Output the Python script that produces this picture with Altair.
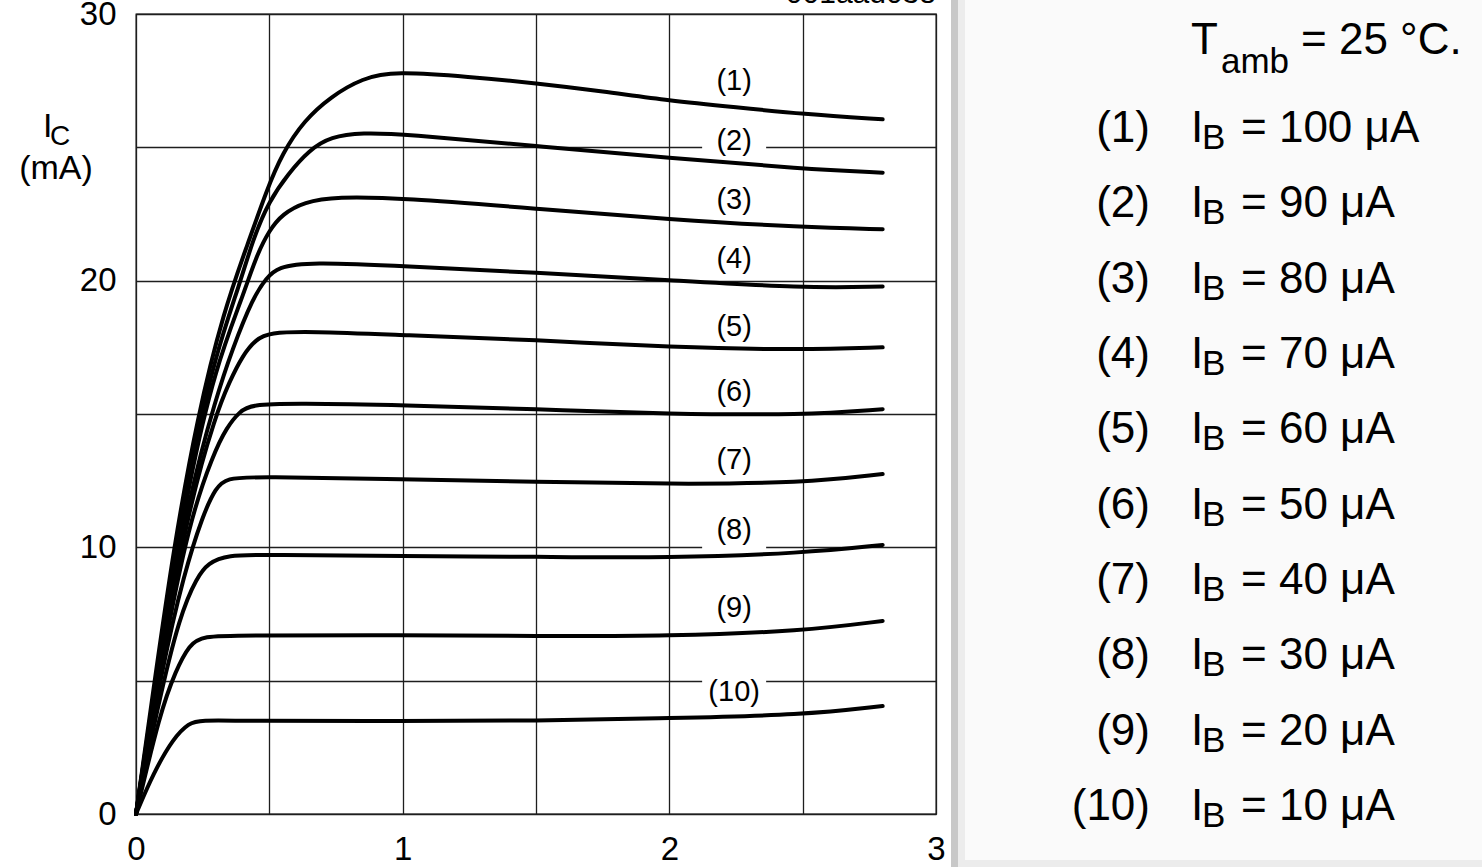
import altair as alt
import pandas as pd

# ---------------- data ----------------
V1 = [0, 0.07, 0.14, 0.23, 0.33, 0.42, 0.49, 0.55, 0.63, 0.73, 0.85, 0.97, 1.25, 1.5, 1.75, 2.0, 2.25, 2.5, 2.8]
I1 = [0, 5.0, 9.9, 14.9, 18.9, 21.4, 23.4, 24.8, 26.0, 26.9, 27.6, 27.85, 27.65, 27.4, 27.1, 26.75, 26.5, 26.25, 26.05]

V2 = [0, 0.1, 0.2, 0.3, 0.39, 0.44, 0.50, 0.57, 0.65, 0.73, 0.85, 1.0, 1.5, 2.0, 2.5, 2.8]
I2 = [0, 6.8, 13.0, 17.3, 19.9, 21.6, 23.0, 24.0, 24.9, 25.4, 25.55, 25.5, 25.05, 24.6, 24.19, 24.05]

V3 = [0, 0.1, 0.2, 0.3, 0.40, 0.45, 0.50, 0.55, 0.63, 0.75, 1.0, 1.5, 2.0, 2.5, 2.8]
I3 = [0, 6.6, 12.6, 16.8, 19.4, 20.9, 21.9, 22.5, 22.95, 23.15, 23.1, 22.7, 22.3, 22.0, 21.93]

V4 = [0, 0.1, 0.2, 0.3, 0.36, 0.44, 0.49, 0.53, 0.65, 1.0, 1.5, 2.0, 2.5, 2.8]
I4 = [0, 6.4, 12.0, 15.6, 17.4, 19.4, 20.1, 20.5, 20.7, 20.55, 20.3, 20.02, 19.72, 19.78]

V5 = [0, 0.1, 0.2, 0.3, 0.35, 0.40, 0.45, 0.50, 0.65, 1.0, 1.5, 2.0, 2.5, 2.8]
I5 = [0, 6.2, 11.6, 15.0, 16.2, 17.2, 17.8, 18.05, 18.1, 17.96, 17.78, 17.5, 17.4, 17.5]

V6 = [0, 0.1, 0.2, 0.29, 0.34, 0.39, 0.43, 0.6, 1.0, 1.5, 2.0, 2.5, 2.8]
I6 = [0, 6.0, 11.0, 13.5, 14.5, 15.1, 15.35, 15.4, 15.33, 15.18, 15.0, 14.96, 15.18]

V7 = [0, 0.1, 0.18, 0.25, 0.30, 0.34, 0.45, 1.0, 1.5, 2.0, 2.5, 2.8]
I7 = [0, 5.6, 9.0, 11.2, 12.25, 12.6, 12.65, 12.56, 12.45, 12.37, 12.41, 12.75]

V8 = [0, 0.08, 0.165, 0.23, 0.27, 0.34, 0.5, 1.0, 1.5, 2.0, 2.5, 2.8]
I8 = [0, 4.0, 7.5, 8.9, 9.4, 9.72, 9.72, 9.67, 9.65, 9.6, 9.78, 10.09]

V9 = [0, 0.09, 0.15, 0.20, 0.25, 0.4, 1.0, 1.5, 2.0, 2.5, 2.8]
I9 = [0, 3.8, 5.4, 6.35, 6.68, 6.7, 6.71, 6.67, 6.67, 6.86, 7.24]

V10 = [0, 0.065, 0.14, 0.20, 0.24, 0.4, 1.0, 1.5, 2.0, 2.5, 2.8]
I10 = [0, 1.53, 2.85, 3.42, 3.52, 3.49, 3.49, 3.49, 3.6, 3.71, 4.05]

CURVES_V = [V1, V2, V3, V4, V5, V6, V7, V8, V9, V10]
CURVES_I = [I1, I2, I3, I4, I5, I6, I7, I8, I9, I10]

CURVE_TAGS = ["(1)", "(2)", "(3)", "(4)", "(5)", "(6)", "(7)", "(8)", "(9)", "(10)"]
TAG_V = [2.243] * 10
TAG_I = [27.49, 25.25, 23.03, 20.81, 18.27, 15.84, 13.27, 10.65, 7.72, 4.57]

IB_UA = [100, 90, 80, 70, 60, 50, 40, 30, 20, 10]
T_AMB = 25

X_TICKS = [0, 0.5, 1, 1.5, 2, 2.5, 3]
Y_TICKS = [0, 5, 10, 15, 20, 25, 30]

FONT = "Liberation Sans"

# ---------------- tables ----------------
rows = []
for k, (vs, cs) in enumerate(zip(CURVES_V, CURVES_I)):
    for j, (v, c) in enumerate(zip(vs, cs)):
        rows.append({"curve": k + 1, "order": j, "V": v, "I": c})
curves_df = pd.DataFrame(rows)

tags_df = pd.DataFrame({"tag": CURVE_TAGS, "V": TAG_V, "I": TAG_I})

legend_df = pd.DataFrame({
    "row": list(range(1, 11)),
    "tag": CURVE_TAGS,
    "val": [f"= {v} \u03bcA" for v in IB_UA],
})

one = pd.DataFrame({"k": [0]})

xs = alt.Scale(domain=[0, 3], nice=False, zero=False)
ys = alt.Scale(domain=[0, 30], nice=False, zero=False)

x_axis = alt.Axis(
    values=X_TICKS, grid=True, gridColor="#1e1e1e", gridWidth=1.3, gridOpacity=1,
    ticks=False, domain=False, title=None,
    labelExpr="datum.value % 1 == 0 ? format(datum.value, 'd') : ''",
    labelFont=FONT, labelFontSize=33, labelColor="black", labelPadding=19,
    labelFlush=False, labelOverlap=False, labelBound=False,
)
y_axis = alt.Axis(
    values=Y_TICKS, grid=True, gridColor="#1e1e1e", gridWidth=1.3, gridOpacity=1,
    ticks=False, domain=False, title=None,
    labelExpr="datum.value % 10 == 0 ? format(datum.value, 'd') : ''",
    labelFont=FONT, labelFontSize=33, labelColor="black", labelPadding=20,
    labelFlush=False, labelOverlap=False, labelBound=False,
)


def text_at(txt, x, y, size, align="left", baseline="alphabetic", color="black"):
    return alt.Chart(one).mark_text(
        text=txt, font=FONT, fontSize=size, align=align, baseline=baseline, color=color
    ).encode(x=alt.value(x), y=alt.value(y))


def box(x, x2, y, y2, color):
    return alt.Chart(one).mark_rect(color=color, strokeWidth=0).encode(
        x=alt.value(x), x2=alt.value(x2), y=alt.value(y), y2=alt.value(y2)
    )


curves = alt.Chart(curves_df).mark_line(
    color="black", strokeWidth=4, interpolate="basis", strokeCap="round"
).encode(
    x=alt.X("V:Q", scale=xs, axis=x_axis),
    y=alt.Y("I:Q", scale=ys, axis=y_axis),
    detail="curve:N",
    order="order:Q",
)

tag_boxes = alt.Chart(tags_df).mark_rect(color="white", width=64, height=40).encode(
    x=alt.X("V:Q", scale=xs), y=alt.Y("I:Q", scale=ys)
)

tag_text = alt.Chart(tags_df).mark_text(
    font=FONT, fontSize=29, align="center", baseline="middle", color="black"
).encode(x=alt.X("V:Q", scale=xs), y=alt.Y("I:Q", scale=ys), text="tag:N")

main = alt.layer(
    tag_boxes,
    curves,
    tag_text,
    text_at("I", -93, 123, 34),
    text_at("C", -86, 131, 28),
    text_at("(mA)", -80, 165, 34, align="center"),
    text_at("001aad038", 800, -11, 30, align="right"),
)

# ---------------- right-hand key ----------------
row_y = alt.Y("row:Q", scale=alt.Scale(domain=[1, 10], range=[128, 806], nice=False, zero=False), axis=None)

KEY_SIZE = 44
SUB_SIZE = 35

key_tag = alt.Chart(legend_df).mark_text(
    font=FONT, fontSize=KEY_SIZE, align="right", baseline="alphabetic", color="black"
).encode(x=alt.value(1014), y=row_y, text="tag:N")

key_i = alt.Chart(legend_df).mark_text(
    text="I", font=FONT, fontSize=KEY_SIZE, align="left", baseline="alphabetic", color="black"
).encode(x=alt.value(1055), y=row_y)

key_b = alt.Chart(legend_df).mark_text(
    text="B", font=FONT, fontSize=SUB_SIZE, align="left", baseline="alphabetic", color="black", dy=7
).encode(x=alt.value(1066), y=row_y)

key_val = alt.Chart(legend_df).mark_text(
    font=FONT, fontSize=KEY_SIZE, align="left", baseline="alphabetic", color="black"
).encode(x=alt.value(1105), y=row_y, text="val:N")

key = alt.layer(
    box(815, 822, -14, 853, "#c8c8c8"),
    box(822, 1346, -14, 853, "#ececec"),
    box(829, 1346, -14, 846, "#fafafa"),
    text_at("T", 1055, 40, KEY_SIZE),
    text_at("amb", 1085, 59, SUB_SIZE),
    text_at(f"= {T_AMB} \u00b0C.", 1165, 40, KEY_SIZE),
    key_tag, key_i, key_b, key_val,
)

chart = alt.layer(main, key).resolve_scale(x="independent", y="independent").properties(
    width=800,
    height=800,
    autosize=alt.AutoSizeParams(type="none"),
    padding={"left": 136, "top": 14, "right": 546, "bottom": 53},
    background="white",
).configure_view(stroke="black", strokeWidth=1.3)

chart.save("out.html", embed_options={"renderer": "svg", "actions": False})
